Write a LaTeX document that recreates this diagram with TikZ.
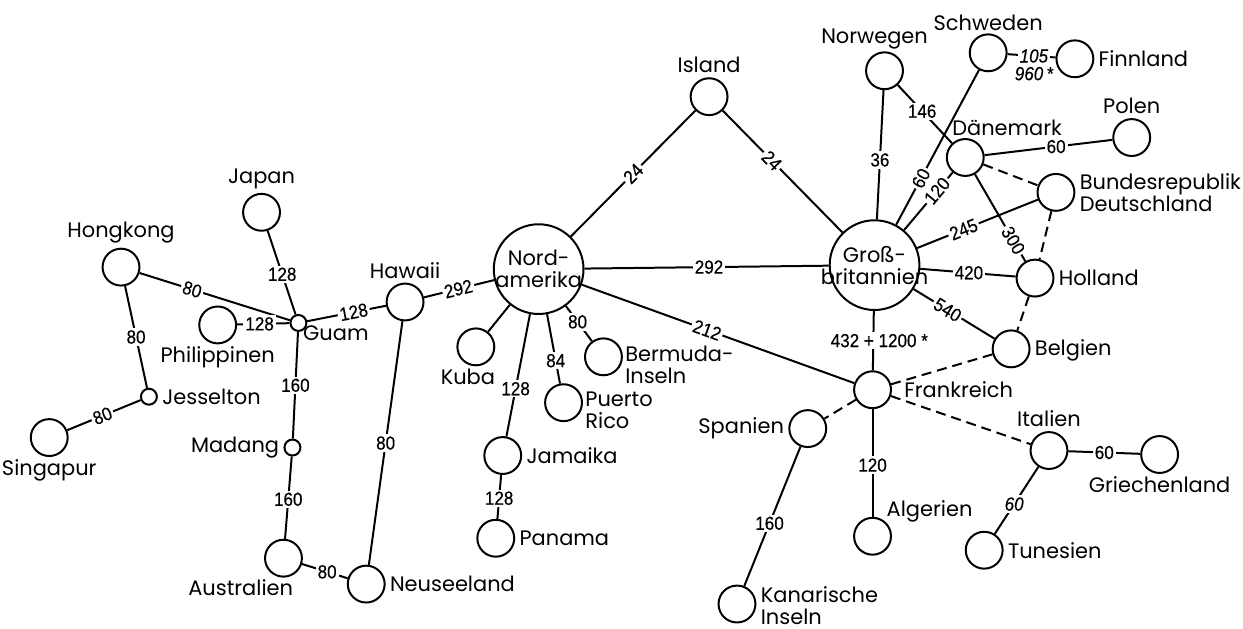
\documentclass[tikz,border=0pt]{standalone}
\usepackage{fontspec}
\usepackage{tikz}
\usetikzlibrary{positioning}
\setmainfont{Poppins}
\newfontfamily\numfont[FakeStretch=0.9, FakeBold=0.4]{Liberation Sans}
\tikzset{
    land/.style = {draw, circle, fill=white, line width=1pt, minimum size=18.5pt, inner sep=0pt},
    land-small/.style = {land, minimum size=8pt},
    land-big/.style = {land, minimum size=45pt},
    land-name/.style = {inner sep=1pt, font=\fontsize{10.5}{11}\selectfont},
    route/.style = {line width=1pt},
    route-dashed/.style = {route, dash pattern=on 5pt off 3pt},
    dist/.style = {fill=white, inner sep=1pt, font=\numfont\fontsize{9.5}{10}\selectfont},
    dist-it/.style = {dist, font=\numfont\itshape\fontsize{9.5}{10}\selectfont},
}

\begin{document}
\begin{tikzpicture}[x=0.5pt, y=-0.5pt]
\fill[white] (0,0) rectangle (1243,631);

% Asien und Pazifik
\node[land] (hongkong) at (119,268) {};
\node[land] (japan) at (260,213) {};
\node[land] (philippinen) at (216,326) {};
\node[land] (singapur) at (47,439) {};
\node[land-small] (guam) at (297,324) {};
\node[land-small] (jesselton) at (147,398) {};
\node[land-small] (madang) at (291,449) {};
\node[land] (hawaii) at (404,303) {};
\node[land] (australien) at (282,560) {};
\node[land] (neuseeland) at (365,586) {};

% Amerika
\node[land-big] (nordamerika) at (538,270) {};
\node[land] (kuba) at (475,348) {};
\node[land] (jamaika) at (502,457) {};
\node[land] (panama) at (495,540) {};
\node[land] (puertorico) at (563,404) {};
\node[land] (bermuda) at (603,358) {};

% Europa und Afrika
\node[land] (island) at (709,97) {};
\node[land-big] (gb) at (875,266) {};
\node[land] (norwegen) at (885,71) {};
\node[land] (schweden) at (989,53) {};
\node[land] (finnland) at (1076,59) {};
\node[land] (polen) at (1133,138) {};
\node[land] (daenemark) at (966,158) {};
\node[land] (brd) at (1057,193) {};
\node[land] (holland) at (1036,279) {};
\node[land] (belgien) at (1012,350) {};
\node[land] (frankreich) at (873,391) {};
\node[land] (spanien) at (808,430) {};
\node[land] (algerien) at (873,538) {};
\node[land] (kanaren) at (737,606) {};
\node[land] (italien) at (1050,452) {};
\node[land] (griechenland) at (1161,456) {};
\node[land] (tunesien) at (985,552) {};

% Namen
\node[land-name, above=1pt of hongkong] (hongkong-t) {Hongkong};
\node[land-name, above=1pt of japan] (japan-t) {Japan};
\node[land-name, below=0pt of philippinen] (philippinen-t) {Philippinen};
\node[land-name, below=0pt of singapur] (singapur-t) {Singapur};
\node[land-name, below right=-3pt and -2pt of guam] (guam-t) {Guam};
\node[land-name, right=1pt of jesselton] (jesselton-t) {Jesselton};
\node[land-name, left=1pt of madang] (madang-t) {Madang};
\node[land-name, above=1pt of hawaii] (hawaii-t) {Hawaii};
\node[land-name, anchor=north east] (australien-t) at ([xshift=6pt]australien.south) {Australien};
\node[land-name, right=1pt of neuseeland] (neuseeland-t) {Neuseeland};
\node[land-name, align=center] (nordamerika-t) at (nordamerika) {Nord-\\amerika};
\node[land-name, below=0pt of kuba, xshift=-4pt] (kuba-t) {Kuba};
\node[land-name, right=1pt of jamaika] (jamaika-t) {Jamaika};
\node[land-name, right=1pt of panama] (panama-t) {Panama};
\node[land-name, align=left, right=0pt of puertorico, yshift=-4pt] (puertorico-t) {Puerto\\Rico};
\node[land-name, align=left, right=0pt of bermuda, yshift=-4pt] (bermuda-t) {Bermuda-\\Inseln};
\node[land-name, above=1pt of island] (island-t) {Island};
\node[land-name, align=center] (gb-t) at (gb) {Groß-\\britannien};
\node[land-name, above=0pt of norwegen, xshift=-5pt] (norwegen-t) {Norwegen};
\node[land-name, above=0pt of schweden] (schweden-t) {Schweden};
\node[land-name, right=1pt of finnland] (finnland-t) {Finnland};
\node[land-name, above=1pt of polen] (polen-t) {Polen};
\node[land-name, above=0pt of daenemark, xshift=21pt] (daenemark-t) {Dänemark};
\node[land-name, align=left, right=1pt of brd] (brd-t) {Bundesrepublik\\Deutschland};
\node[land-name, right=1pt of holland] (holland-t) {Holland};
\node[land-name, right=1pt of belgien, yshift=-1pt] (belgien-t) {Belgien};
\node[land-name, right=5pt of frankreich] (frankreich-t) {Frankreich};
\node[land-name, left=1pt of spanien] (spanien-t) {Spanien};
\node[land-name, above right=-1pt and -1pt of algerien] (algerien-t) {Algerien};
\node[land-name, align=left, right=1pt of kanaren, yshift=-1pt] (kanaren-t) {Kanarische\\Inseln};
\node[land-name, above=1pt of italien] (italien-t) {Italien};
\node[land-name, below=0pt of griechenland] (griechenland-t) {Griechenland};
\node[land-name, right=1pt of tunesien] (tunesien-t) {Tunesien};

% Verbindungen
\draw[route] (hongkong) -- node[dist, sloped, pos=0.35] {80} (guam);
\draw[route] (hongkong) -- node[dist, pos=0.5] {80} (jesselton);
\draw[route] (jesselton) -- node[dist, sloped, pos=0.52] {80} (singapur);
\draw[route] (japan) -- node[dist, pos=0.52] {128} (guam);
\draw[route] (philippinen) -- node[dist, pos=0.43] {128} (guam);
\draw[route] (guam) -- node[dist, sloped, pos=0.59] {128} (hawaii);
\draw[route] (guam) -- node[dist, pos=0.5] {160} (madang);
\draw[route] (madang) -- node[dist, pos=0.52] {160} (australien);
\draw[route] (australien) -- node[dist, pos=0.55] {80} (neuseeland);
\draw[route] (hawaii) -- node[dist, pos=0.5] {80} (neuseeland);
\draw[route] (hawaii) -- node[dist, sloped, pos=0.49] {292} (nordamerika);
\draw[route] (nordamerika) -- node[dist, sloped, pos=0.5] {24} (island);
\draw[route] (island) -- node[dist, sloped, pos=0.41] {24} (gb);
\draw[route] (nordamerika) -- node[dist, pos=0.51] {292} (gb);
\draw[route] (nordamerika) -- node[dist, sloped, pos=0.46] {212} (frankreich);
\draw[route] (nordamerika) -- (kuba);
\draw[route] (nordamerika) -- node[dist, pos=0.61] {128} (jamaika);
\draw[route] (nordamerika) -- node[dist, pos=0.67] {84} (puertorico);
\draw[route] (nordamerika) -- node[dist, pos=0.45] {80} (bermuda);
\draw[route] (jamaika) -- node[dist, pos=0.53] {128} (panama);
\draw[route] (gb) -- node[dist, pos=0.46] {36} (norwegen);
\draw[route] (norwegen) -- node[dist, pos=0.45] {146} (daenemark);
\draw[route] (gb) -- node[dist, sloped, pos=0.3] {60} (schweden);
\draw[route] (schweden) -- node[dist-it, pos=0.55] {105}
    node[dist-it, pos=0.55, below=4pt] {960\,*} (finnland);
\draw[route] (gb) -- node[dist, sloped, pos=0.68] {120} (daenemark);
\draw[route] (daenemark) -- node[dist, pos=0.56] {60} (polen);
\draw[route-dashed] (daenemark) -- (brd);
\draw[route] (daenemark) -- node[dist, sloped, pos=0.76] {300} (holland);
\draw[route] (gb) -- node[dist, sloped, pos=0.385] {245} (brd);
\draw[route-dashed] (brd) -- (holland);
\draw[route] (gb) -- node[dist, pos=0.51] {420} (holland);
\draw[route-dashed] (holland) -- (belgien);
\draw[route] (gb) -- node[dist, sloped, pos=0.42] {540} (belgien);
\draw[route] (gb) -- node[dist, pos=0.5, xshift=3pt] {432 + 1200 *} (frankreich);
\draw[route-dashed] (belgien) -- (frankreich);
\draw[route-dashed] (frankreich) -- (spanien);
\draw[route-dashed] (frankreich) -- (italien);
\draw[route] (frankreich) -- node[dist, pos=0.52] {120} (algerien);
\draw[route] (spanien) -- node[dist, pos=0.55] {160} (kanaren);
\draw[route] (italien) -- node[dist, pos=0.5] {60} (griechenland);
\draw[route] (italien) -- node[dist-it, pos=0.555] {60} (tunesien);
\end{tikzpicture}
\end{document}
